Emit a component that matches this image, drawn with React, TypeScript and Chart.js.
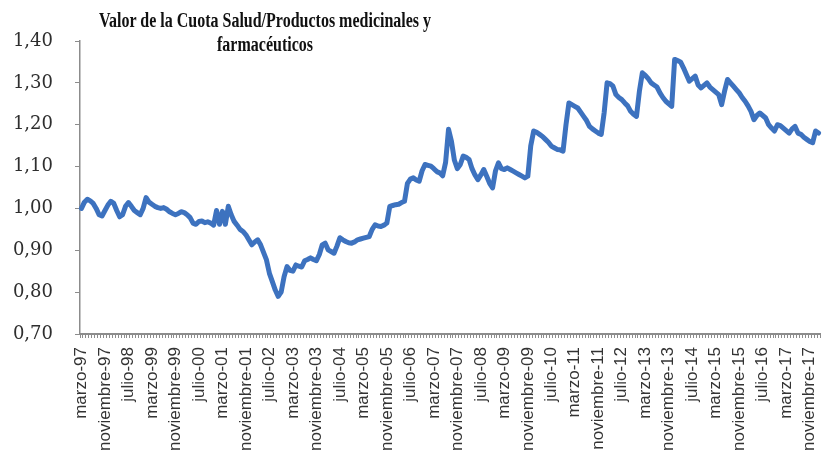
import React, { useEffect, useRef } from "react";
import { Chart, registerables } from "chart.js";

Chart.register(...registerables);

const TITLE_LINE_1 = "Valor de la Cuota Salud/Productos medicinales y";
const TITLE_LINE_2 = "farmacéuticos";

const MONTHS = ["enero", "febrero", "marzo", "abril", "mayo", "junio", "julio", "agosto", "septiembre", "octubre", "noviembre", "diciembre"];
const START_YEAR = 1997;
const START_MONTH = 2; // marzo
const LABEL_EVERY = 8;

const Y_MIN = 0.7;
const Y_MAX = 1.4;
const Y_STEP = 0.1;

const v1997 = [1.000, 1.015, 1.022, 1.018, 1.012, 1.000, 0.985, 0.982, 0.995, 1.008];
const v1998 = [1.017, 1.012, 0.995, 0.980, 0.985, 1.005, 1.014, 1.005, 0.995, 0.990, 0.985, 1.000];
const v1999 = [1.026, 1.015, 1.010, 1.005, 1.002, 1.000, 1.002, 0.998, 0.992, 0.988, 0.985, 0.988];
const v2000 = [0.992, 0.990, 0.985, 0.978, 0.965, 0.962, 0.969, 0.970, 0.966, 0.968, 0.965, 0.960];
const v2001 = [0.995, 0.962, 0.993, 0.962, 1.005, 0.985, 0.969, 0.960, 0.950, 0.945, 0.937, 0.925];
const v2002 = [0.913, 0.920, 0.925, 0.913, 0.895, 0.877, 0.845, 0.825, 0.805, 0.790, 0.800, 0.837];
const v2003 = [0.861, 0.852, 0.850, 0.865, 0.862, 0.860, 0.875, 0.878, 0.882, 0.878, 0.875, 0.890];
const v2004 = [0.913, 0.917, 0.901, 0.897, 0.893, 0.910, 0.930, 0.925, 0.921, 0.918, 0.917, 0.920];
const v2005 = [0.925, 0.927, 0.929, 0.931, 0.933, 0.950, 0.961, 0.958, 0.957, 0.960, 0.965, 1.005];
const v2006 = [1.007, 1.009, 1.010, 1.014, 1.017, 1.060, 1.070, 1.073, 1.068, 1.065, 1.090, 1.105];
const v2007 = [1.103, 1.101, 1.095, 1.088, 1.085, 1.078, 1.110, 1.189, 1.160, 1.115, 1.095, 1.105];
const v2008 = [1.125, 1.122, 1.117, 1.095, 1.080, 1.069, 1.080, 1.093, 1.077, 1.060, 1.049, 1.090];
const v2009 = [1.109, 1.095, 1.093, 1.097, 1.093, 1.089, 1.085, 1.081, 1.077, 1.073, 1.077, 1.150];
const v2010 = [1.185, 1.182, 1.177, 1.172, 1.165, 1.158, 1.149, 1.145, 1.141, 1.140, 1.137, 1.200];
const v2011 = [1.252, 1.248, 1.244, 1.240, 1.230, 1.220, 1.210, 1.196, 1.190, 1.185, 1.180, 1.177];
const v2012 = [1.229, 1.300, 1.298, 1.292, 1.272, 1.265, 1.260, 1.252, 1.245, 1.232, 1.225, 1.220];
const v2013 = [1.280, 1.324, 1.318, 1.310, 1.300, 1.295, 1.290, 1.276, 1.265, 1.256, 1.250, 1.244];
const v2014 = [1.356, 1.353, 1.350, 1.336, 1.320, 1.304, 1.310, 1.316, 1.295, 1.288, 1.294, 1.300];
const v2015 = [1.290, 1.284, 1.278, 1.272, 1.248, 1.280, 1.308, 1.300, 1.292, 1.284, 1.276, 1.265];
const v2016 = [1.256, 1.245, 1.232, 1.212, 1.222, 1.228, 1.222, 1.216, 1.200, 1.192, 1.185, 1.200];
const v2017 = [1.198, 1.192, 1.186, 1.180, 1.190, 1.196, 1.180, 1.177, 1.170, 1.165, 1.160, 1.157];
const v2018 = [1.185, 1.180];

const VALUES = [
  ...v1997, ...v1998, ...v1999, ...v2000, ...v2001, ...v2002, ...v2003,
  ...v2004, ...v2005, ...v2006, ...v2007, ...v2008, ...v2009, ...v2010,
  ...v2011, ...v2012, ...v2013, ...v2014, ...v2015, ...v2016, ...v2017, ...v2018,
];

const CATEGORIES = VALUES.map((_, i) => {
  const m = START_MONTH + i;
  const year = START_YEAR + Math.floor(m / 12);
  return MONTHS[m % 12] + "-" + String(year % 100).padStart(2, "0");
});

export default function App() {
  const canvasRef = useRef<HTMLCanvasElement | null>(null);

  useEffect(() => {
    document.body.style.margin = "0";
    const canvas = canvasRef.current;
    if (!canvas) return;
    const chart = new Chart(canvas, {
      type: "line",
      data: {
        labels: CATEGORIES,
        datasets: [
          {
            data: VALUES,
            borderColor: "#3d72bf",
            borderWidth: 5,
            pointRadius: 0,
            tension: 0,
            borderJoinStyle: "round",
            borderCapStyle: "round",
          },
        ],
      },
      options: {
        animation: false,
        responsive: false,
        maintainAspectRatio: false,
        layout: { padding: { top: 41, right: 5, left: 0, bottom: 0 } },
        plugins: { legend: { display: false }, title: { display: false }, tooltip: { enabled: false } },
        scales: {
          x: {
            type: "category",
            offset: true,
            afterFit: (s: any) => {
              s.height = 118;
              s.paddingLeft = 0;
              s.paddingRight = 0;
            },
            grid: { display: true, drawOnChartArea: false, offset: true, tickLength: 4, color: "#8c8c8c", lineWidth: 1 },
            border: { display: true, color: "#8c8c8c", width: 2 },
            ticks: {
              autoSkip: false,
              maxRotation: 90,
              minRotation: 90,
              padding: 9,
              color: "#333333",
              font: { family: "'Liberation Sans', Arial, sans-serif", size: 17 },
              callback: (_v: any, i: number) => (i % LABEL_EVERY === 0 ? CATEGORIES[i] : ""),
            },
          },
          y: {
            min: Y_MIN,
            max: Y_MAX,
            afterFit: (s: any) => {
              s.width = 80;
              s.paddingTop = 0;
              s.paddingBottom = 0;
            },
            grid: { display: true, drawOnChartArea: false, tickLength: 5, color: "#8c8c8c" },
            border: { display: true, color: "#8c8c8c", width: 1.5 },
            ticks: {
              stepSize: Y_STEP,
              padding: 22,
              color: "#2e2e2e",
              font: { family: "'DejaVu Serif', serif", size: 18 },
              callback: (v: any) => Number(v).toFixed(2).replace(".", ","),
            },
          },
        },
      },
    });
    return () => chart.destroy();
  }, []);

  return (
    <div style={{ position: "fixed", left: 0, top: 0, width: 825, height: 452, background: "#ffffff", overflow: "hidden" }}>
      <canvas ref={canvasRef} width={825} height={452} style={{ display: "block" }} />
      <div
        style={{
          position: "absolute",
          left: 0,
          top: 8,
          width: 530,
          textAlign: "center",
          fontFamily: "'Liberation Serif', 'Times New Roman', serif",
          fontWeight: "bold",
          fontSize: 16,
          lineHeight: "19px",
          color: "#111111",
          transform: "scaleY(1.25)",
          transformOrigin: "top left",
        }}
      >
        {TITLE_LINE_1}
        <br />
        {TITLE_LINE_2}
      </div>
    </div>
  );
}
